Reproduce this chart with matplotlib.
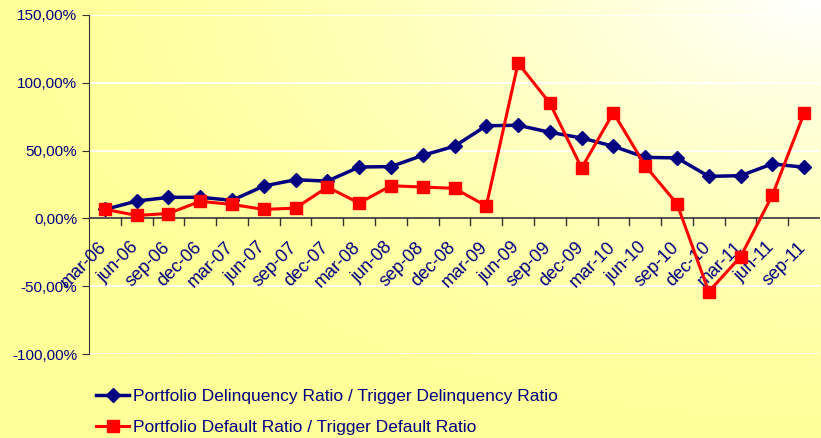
import numpy as np
import matplotlib.pyplot as plt
from matplotlib.ticker import FuncFormatter

# quarterly labels
quarters = ["mar-06", "jun-06", "sep-06", "dec-06", "mar-07", "jun-07", "sep-07", "dec-07",
            "mar-08", "jun-08", "sep-08", "dec-08", "mar-09", "jun-09", "sep-09", "dec-09",
            "mar-10", "jun-10", "sep-10", "dec-10", "mar-11", "jun-11", "sep-11"]

# values in %
delinquency = [6.6, 12.8, 15.5, 15.6, 13.3, 23.9, 28.5, 27.5, 37.9, 38.2, 46.5, 53.2,
               68.3, 68.7, 63.5, 59.3, 53.2, 45.0, 44.6, 31.0, 31.5, 40.2, 37.7]
default = [6.7, 2.2, 3.6, 12.6, 10.3, 6.6, 7.6, 23.1, 11.3, 24.1, 23.1, 22.2,
           9.1, 114.5, 85.0, 37.2, 78.0, 38.8, 10.8, -54.0, -28.3, 17.0, 77.6]

label_del = "Portfolio Delinquency Ratio / Trigger Delinquency Ratio"
label_def = "Portfolio Default Ratio / Trigger Default Ratio"

navy = "#000080"
plt.rcParams['font.family'] = ['Liberation Sans', 'DejaVu Sans']

fig = plt.figure(figsize=(8.21, 4.38), dpi=100)

# background gradient: yellow at left/bottom, whiter towards top right
bg = fig.add_axes([0, 0, 1, 1])
gx, gy = np.meshgrid(np.linspace(0, 1, 300), np.linspace(0, 1, 200))
t = np.clip(1 - np.hypot(1 - gx, 1 - gy) / 1.05, 0, 1) ** 1.6
rgb = np.zeros((200, 300, 3))
rgb[..., 0] = 1.0
rgb[..., 1] = 1.0
rgb[..., 2] = 0.60 + 0.40 * t
bg.imshow(rgb, origin="lower", extent=[0, 1, 0, 1], aspect="auto")
bg.axis("off")

ax = fig.add_axes([89 / 821, 1 - 354 / 438, (820 - 89) / 821, (354 - 15) / 438])
ax.patch.set_alpha(0)
x = np.arange(len(quarters))

ax.plot(x, delinquency, color=navy, lw=2.5, marker="D", ms=7.5, label=label_del, zorder=3)
ax.plot(x, default, color="red", lw=2.2, marker="s", ms=9, label=label_def, zorder=4)

ax.set_xlim(-0.5, len(quarters) - 0.5)
ax.set_ylim(-100, 150)
ax.set_yticks(np.arange(-100, 151, 50))
ax.yaxis.set_major_formatter(FuncFormatter(lambda v, p: f"{v:.2f}%".replace(".", ",")))
ax.grid(axis="y", color="white", lw=1.3)
ax.set_axisbelow(True)

for s in ["top", "right", "bottom"]:
    ax.spines[s].set_visible(False)
ax.spines["left"].set_color("#333333")
ax.axhline(0, color="#333333", lw=1.2, zorder=2)

ax.tick_params(axis="y", colors=navy, labelsize=11, length=5, color="#333333")
ax.set_xticks(x)
ax.set_xticklabels([])
ax.tick_params(axis="x", which="both", length=0)

# x labels rotated, anchored below the zero line
for i, q in enumerate(quarters):
    ax.text(i - 0.22, -15, q, rotation=45, ha="right", va="top", rotation_mode="anchor",
            color=navy, fontsize=13)
# tick marks below the zero axis
for b in np.arange(0.5, len(quarters) - 0.5):
    ax.plot([b, b], [0, -5], color="#333333", lw=1, clip_on=False)

leg = fig.legend(loc="upper left", bbox_to_anchor=(0.098, 0.148), frameon=False,
                 fontsize=12.5, labelcolor=navy, handlelength=1.9, handletextpad=0.25,
                 labelspacing=0.9)

fig.savefig("out.png", dpi=100)
